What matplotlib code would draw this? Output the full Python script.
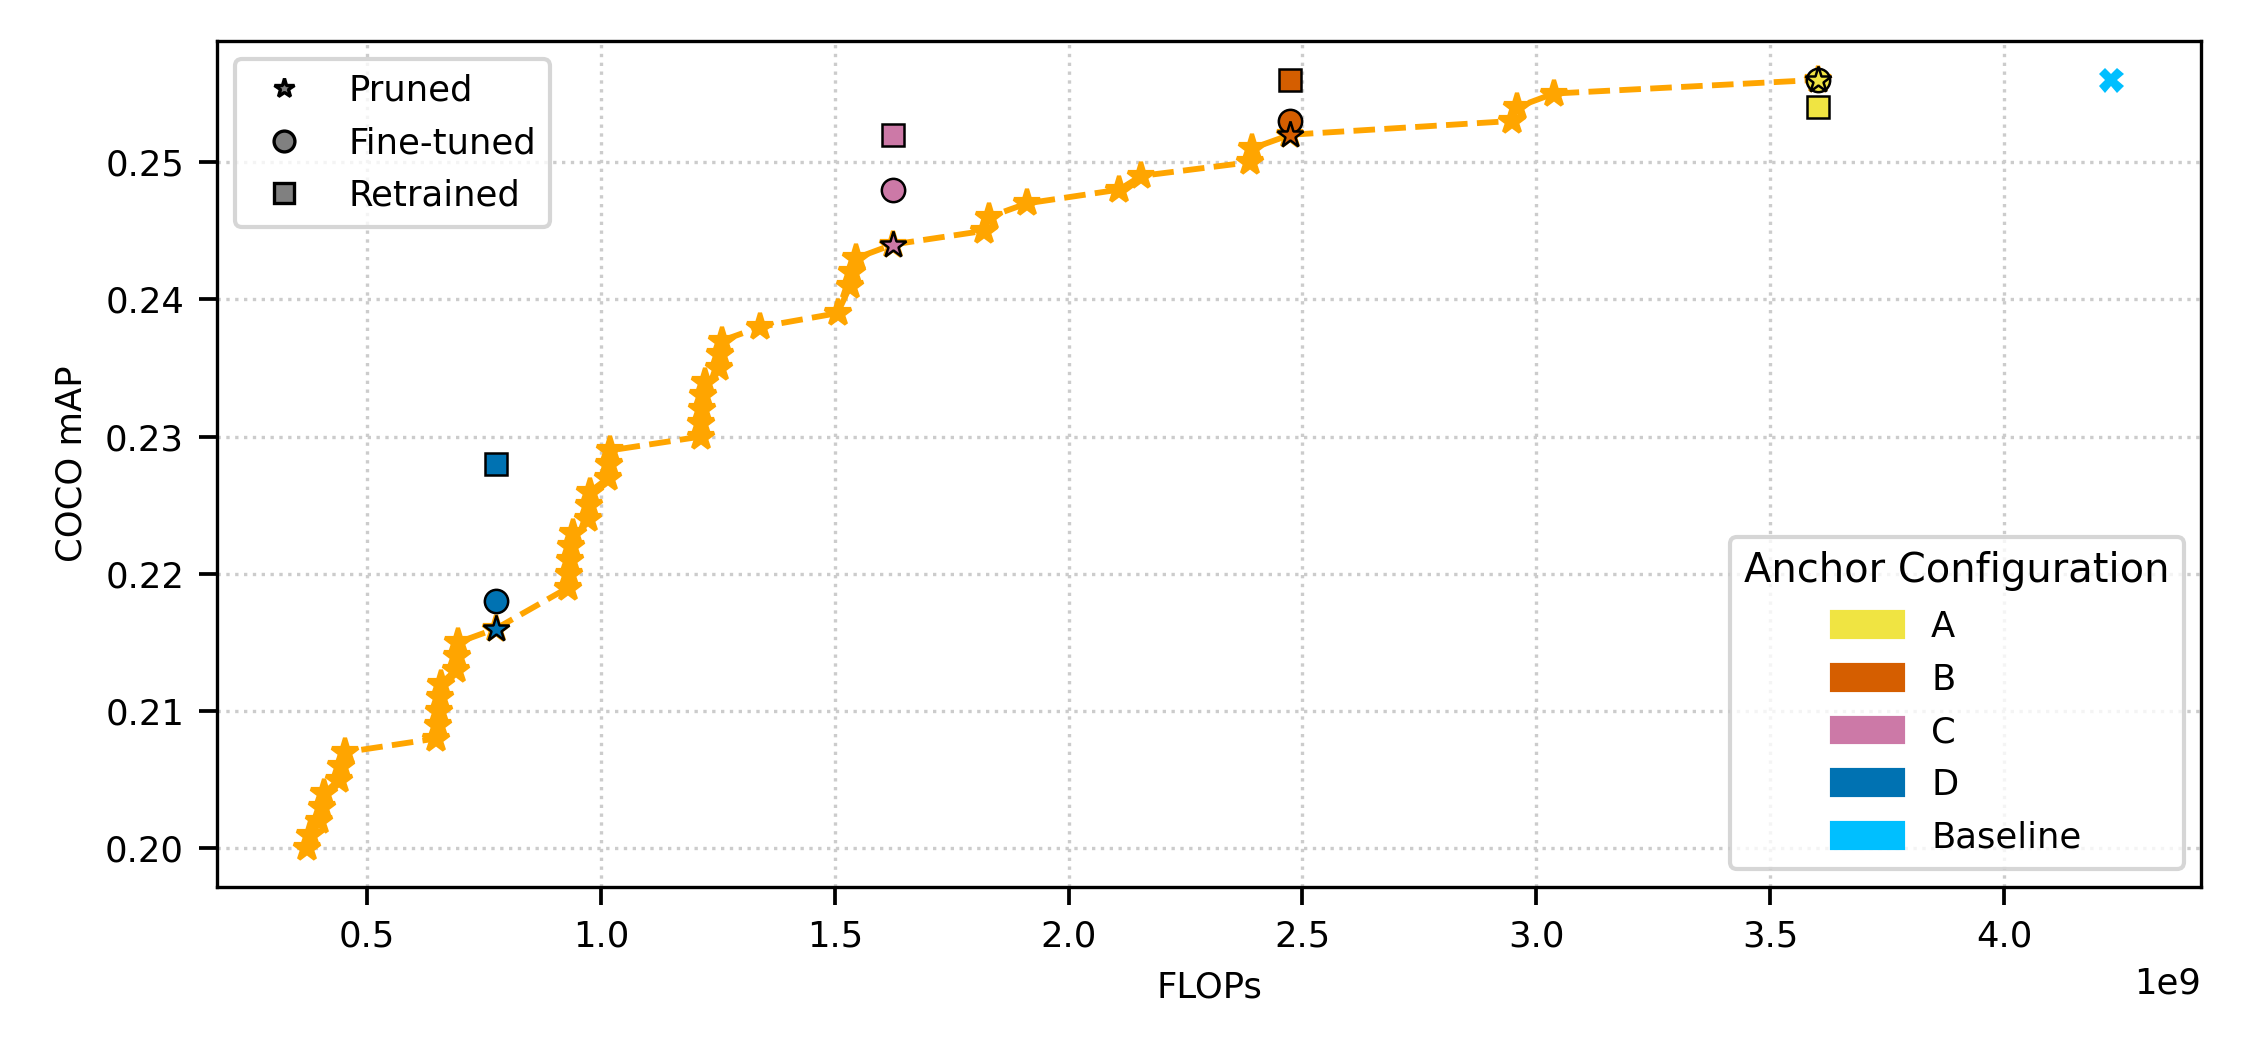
import numpy as np
import matplotlib
matplotlib.use('Agg')
import matplotlib.pyplot as plt
from matplotlib.lines import Line2D
from matplotlib.patches import Patch

# pruned trajectory (FLOPs, mAP)
pruned_flops = [0.372, 0.378, 0.398, 0.403, 0.408, 0.440, 0.445, 0.452,
                0.647, 0.651, 0.653, 0.655, 0.658, 0.690, 0.692, 0.694,
                0.775, 0.930, 0.932, 0.934, 0.936, 0.940, 0.972, 0.974,
                0.977, 1.016, 1.018, 1.020, 1.213, 1.215, 1.216, 1.218,
                1.222, 1.252, 1.255, 1.259, 1.341, 1.506, 1.533, 1.537,
                1.545, 1.624, 1.820, 1.829, 1.911, 2.108, 2.155, 2.388,
                2.392, 2.474, 2.947, 2.958, 3.037, 3.603]
pruned_map = [0.200, 0.201, 0.202, 0.203, 0.204, 0.205, 0.206, 0.207,
              0.208, 0.209, 0.210, 0.211, 0.212, 0.213, 0.214, 0.215,
              0.216, 0.219, 0.220, 0.221, 0.222, 0.223, 0.224, 0.225,
              0.226, 0.227, 0.228, 0.229, 0.230, 0.231, 0.232, 0.233,
              0.234, 0.235, 0.236, 0.237, 0.238, 0.239, 0.241, 0.242,
              0.243, 0.244, 0.245, 0.246, 0.247, 0.248, 0.249, 0.250,
              0.251, 0.252, 0.253, 0.254, 0.255, 0.256]

# anchor configurations
configs = ['A', 'B', 'C', 'D']
config_colors = ['#F0E442', '#D55E00', '#CC79A7', '#0072B2']
config_flops = [3.603, 2.474, 1.625, 0.775]
config_pruned = [0.256, 0.252, 0.244, 0.216]
config_finetuned = [0.256, 0.253, 0.248, 0.218]
config_retrained = [0.254, 0.256, 0.252, 0.228]

baseline_flops = 4.229
baseline_map = 0.256
baseline_color = '#00BFFF'

plt.rcParams['font.family'] = ['DejaVu Sans']
plt.rcParams['font.size'] = 8.5
plt.rcParams['legend.labelspacing'] = 0.53
plt.rcParams['xtick.major.size'] = 4.4
plt.rcParams['ytick.major.size'] = 4.4
plt.rcParams['xtick.major.width'] = 0.9
plt.rcParams['ytick.major.width'] = 0.9

fig, ax = plt.subplots(figsize=(7.48, 3.54), dpi=300)
fig.subplots_adjust(left=0.0967, right=0.981, top=0.961, bottom=0.165)

ax.plot(np.array(pruned_flops) * 1e9, pruned_map, linestyle='--', color='orange',
        linewidth=1.4, marker='*', markersize=6.7, markeredgewidth=1.0, zorder=2)

for name, c, fx, p, f, r in zip(configs, config_colors, config_flops,
                                config_pruned, config_finetuned, config_retrained):
    ax.plot(fx * 1e9, f, 'o', color=c, markeredgecolor='black', markeredgewidth=0.6,
            markersize=5.6, zorder=3)
    ax.plot(fx * 1e9, r, 's', color=c, markeredgecolor='black', markeredgewidth=0.6,
            markersize=5.2, zorder=3)
    ax.plot(fx * 1e9, p, '*', color=c, markeredgecolor='black', markeredgewidth=0.6,
            markersize=6.7, zorder=4)

ax.plot(baseline_flops * 1e9, baseline_map, 'X', color=baseline_color,
        markeredgewidth=0, markersize=6, zorder=3)

ax.set_xlabel('FLOPs')
ax.set_ylabel('COCO mAP')
ax.set_yticks([0.20, 0.21, 0.22, 0.23, 0.24, 0.25])
ax.grid(True, linestyle=':', color='#cccccc', linewidth=0.8)

# legend for evaluation stage
stage_handles = [
    Line2D([], [], linestyle='none', marker='*', color='gray', markeredgecolor='black',
           markeredgewidth=0.8, markersize=5, label='Pruned'),
    Line2D([], [], linestyle='none', marker='o', color='gray', markeredgecolor='black',
           markeredgewidth=0.8, markersize=5, label='Fine-tuned'),
    Line2D([], [], linestyle='none', marker='s', color='gray', markeredgecolor='black',
           markeredgewidth=0.8, markersize=5, label='Retrained'),
]
leg1 = ax.legend(handles=stage_handles, loc='upper left')
ax.add_artist(leg1)

config_handles = [Patch(color=c, label=n) for n, c in zip(configs, config_colors)]
config_handles.append(Patch(color=baseline_color, label='Baseline'))
ax.legend(handles=config_handles, loc='lower right', title='Anchor Configuration',
          title_fontsize=9.6)

plt.savefig('out.png', dpi=300)
plt.close()
